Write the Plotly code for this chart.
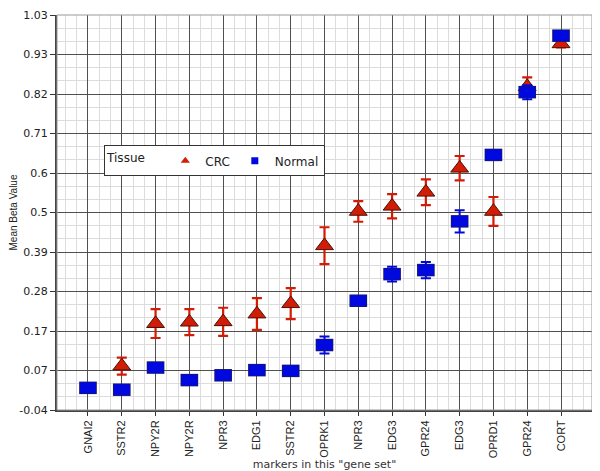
import plotly.graph_objects as go

# ---- data ----
categories = ["GNAI2", "SSTR2", "NPY2R", "NPY2R", "NPR3", "EDG1", "SSTR2", "OPRK1",
              "NPR3", "EDG3", "GPR24", "EDG3", "OPRD1", "GPR24", "CORT"]
crc = [None, 0.079, 0.194, 0.198, 0.199, 0.220, 0.248, 0.405,
       0.498, 0.512, 0.550, 0.615, 0.498, 0.836, 0.952]
crc_err = [None, 0.023, 0.039, 0.035, 0.038, 0.043, 0.042, 0.050,
           0.028, 0.033, 0.035, 0.033, 0.039, 0.025, 0.010]
normal = [0.020, 0.015, 0.075, 0.041, 0.054, 0.068, 0.066, 0.136,
          0.256, 0.328, 0.339, 0.471, 0.651, 0.821, 0.974]
normal_err = [0.008, 0.008, 0.008, 0.008, 0.008, 0.008, 0.008, 0.023,
              0.010, 0.020, 0.022, 0.030, 0.012, 0.019, 0.008]
y_tick_labels = ["-0.04", "0.07", "0.17", "0.28", "0.39", "0.5", "0.6",
                 "0.71", "0.82", "0.93", "1.03"]
y_min, y_max = -0.04, 1.03

xpos = list(range(len(categories)))
ystep = (y_max - y_min) / (len(y_tick_labels) - 1)
y_tick_vals = [y_min + i * ystep for i in range(len(y_tick_labels))]

RED = "#d21c05"
BLUE = "#0008e0"

fig = go.Figure()

# CRC triangles
fig.add_trace(go.Scatter(
    x=xpos, y=crc, mode="markers", showlegend=False,
    marker=dict(symbol="triangle-up", size=15.5, color=RED,
                line=dict(color="#4a1208", width=1)),
    error_y=dict(type="data", array=crc_err, color=RED, thickness=2.2, width=5),
))
# Normal rectangles: dark border layer + blue fill layer (wide flat boxes)
fig.add_trace(go.Scatter(
    x=xpos, y=normal, mode="markers", showlegend=False,
    marker=dict(symbol="line-ew", size=12.6, line=dict(color="#1a1a60", width=12.5)),
    error_y=dict(type="data", array=normal_err, color=BLUE, thickness=2, width=5),
))
fig.add_trace(go.Scatter(
    x=xpos, y=normal, mode="markers", showlegend=False,
    marker=dict(symbol="line-ew", size=11.5, line=dict(color=BLUE, width=11)),
))
# legend entries
fig.add_trace(go.Scatter(x=[None], y=[None], mode="markers", name="CRC",
                         marker=dict(symbol="triangle-up", size=8, color=RED)))
fig.add_trace(go.Scatter(x=[None], y=[None], mode="markers", name="Normal",
                         marker=dict(symbol="square", size=7, color=BLUE)))

# page body adds an 8px offset, so the figure is sized to fit the window
fig.update_layout(
    width=592, height=463,
    margin=dict(l=49, r=8, t=7, b=61),
    paper_bgcolor="white", plot_bgcolor="white",
    font=dict(family="DejaVu Sans", color="#222"),
    legend=dict(
        orientation="h", x=0.088, y=0.67, xanchor="left", yanchor="top",
        title=dict(text="Tissue   ", side="left", font=dict(size=12)),
        font=dict(size=12, family="DejaVu Sans"),
        bgcolor="white", bordercolor="#333", borderwidth=1,
        itemwidth=30, tracegroupgap=0, valign="middle",
    ),
    shapes=[dict(type="rect", xref="paper", yref="paper", x0=0, y0=0, x1=1, y1=1,
                 line=dict(color="#999", width=1), layer="above")],
)

fig.update_xaxes(
    automargin=False,
    range=[-0.917, len(categories) - 1 + 0.917],
    tickmode="array", tickvals=xpos, ticktext=categories, tickangle=-90,
    tickfont=dict(family="Liberation Sans Narrow, Liberation Sans", size=11, color="#222"),
    showgrid=True, gridcolor="#505050", gridwidth=1,
    minor=dict(tick0=0, dtick=1 / 3, showgrid=True, gridcolor="#dcdcdc", gridwidth=1),
    ticks="outside", ticklen=4, tickcolor="#333",
    showline=True, linewidth=2, linecolor="#444",
    zeroline=False,
    title=dict(text='markers in this "gene set"', font=dict(size=11, color="#333"), standoff=14),
)
fig.update_yaxes(
    automargin=False,
    range=[y_min, y_max],
    tickmode="array", tickvals=y_tick_vals, ticktext=y_tick_labels,
    tickfont=dict(family="DejaVu Sans", size=11, color="#222"),
    ticklabeloverflow="allow",
    showgrid=True, gridcolor="#505050", gridwidth=1,
    minor=dict(tick0=y_min, dtick=ystep / 3, showgrid=True, gridcolor="#dcdcdc", gridwidth=1),
    ticks="outside", ticklen=5, tickcolor="#333",
    showline=True, linewidth=2, linecolor="#444",
    zeroline=False,
    title=dict(text="Mean Beta Value",
               font=dict(family="Liberation Sans Narrow, Liberation Sans", size=10, color="#222"),
               standoff=4),
)

fig.write_html("out.html")
